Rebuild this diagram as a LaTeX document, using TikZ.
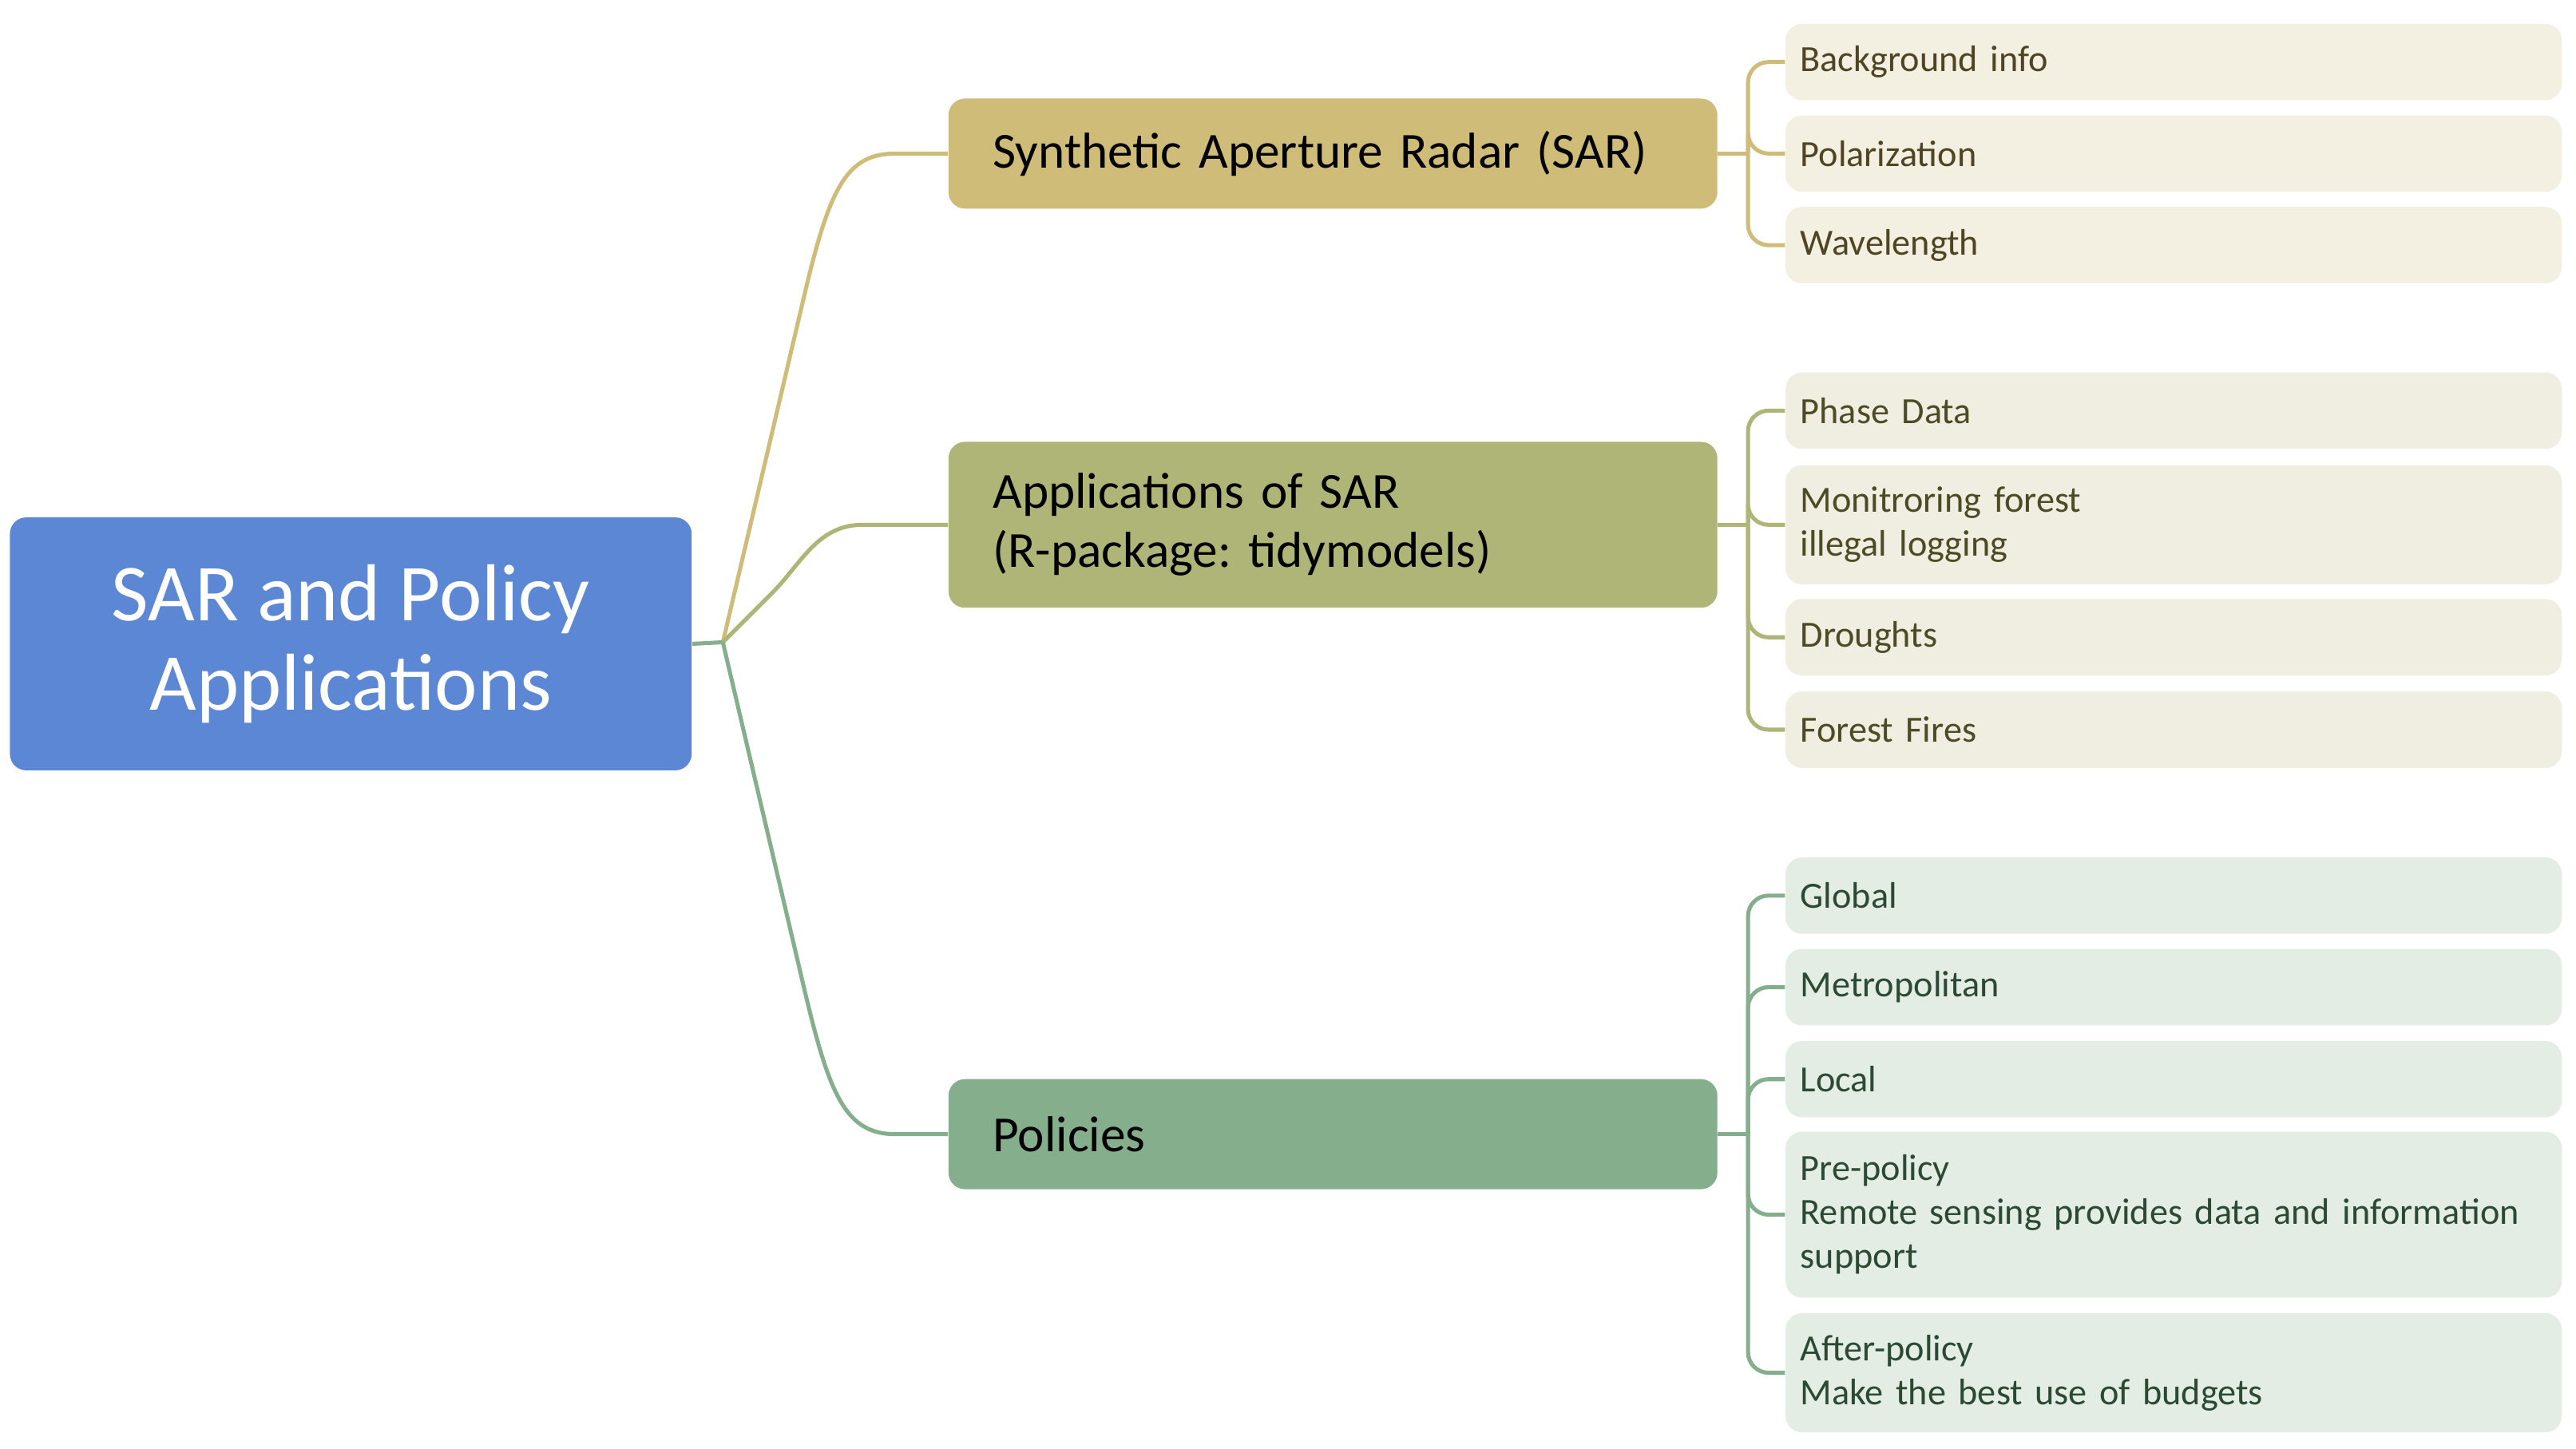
\documentclass[tikz,border=0pt]{standalone}
\usepackage{xcolor}
\usepackage{tikz}
\usepackage{fontspec}
\setmainfont{Carlito}
\frenchspacing

\definecolor{rootblue}{HTML}{5B87D4}
\definecolor{sargold}{HTML}{D0BC79}
\definecolor{appolive}{HTML}{AFB576}
\definecolor{polgreen}{HTML}{84AE8C}
\definecolor{sarleaf}{HTML}{F3EFE1}
\definecolor{appleaf}{HTML}{EFEEE0}
\definecolor{polleaf}{HTML}{E4EDE4}
\definecolor{sartext}{HTML}{4F4423}
\definecolor{apptext}{HTML}{4B4C26}
\definecolor{poltext}{HTML}{2C4A33}

\tikzset{
	main/.style={anchor=west, rounded corners=0.2cm, minimum width=9.36cm, text width=8.28cm, inner xsep=0.54cm, align=left, font=\fontsize{17.5}{20.5}\selectfont},
	leaf/.style={anchor=west, rounded corners=0.2cm, text width=9.09cm, inner xsep=0.18cm, inner ysep=0pt, align=left, font=\fontsize{12.8}{15.2}\selectfont},
	branch/.style={line width=1.4pt},
}

\begin{document}
\begin{tikzpicture}
	\newcommand\mx{11.54}
	\newcommand\bx{21.28}
	\newcommand\lx{21.73}

	\useasboundingbox (0,0) rectangle (31.36,-17.64);

	\node[rounded corners=0.2cm, fill=rootblue, text=white, minimum width=8.30cm, minimum height=3.08cm, align=center, font=\fontsize{28}{31}\selectfont] (root) at (4.27,-7.84) {SAR and Policy\\Applications};
	\coordinate (hub) at (8.80,-7.82);

	\node[main, fill=sargold, minimum height=1.34cm] (sar) at (\mx,-1.87) {Synthetic Aperture Radar (SAR)};
	\node[main, fill=appolive, minimum height=2.02cm] (app) at (\mx,-6.39) {Applications of SAR\\(R-package: tidymodels)};
	\node[main, fill=polgreen, minimum height=1.34cm] (pol) at (\mx,-13.81) {Policies};

	\node[leaf, fill=sarleaf, text=sartext, minimum height=0.93cm] (bg) at (\lx,-0.755) {Background info};
	\node[leaf, fill=sarleaf, text=sartext, minimum height=0.93cm] (polz) at (\lx,-1.87) {Polarization};
	\node[leaf, fill=sarleaf, text=sartext, minimum height=0.93cm] (wave) at (\lx,-2.985) {Wavelength};

	\node[leaf, fill=appleaf, text=apptext, minimum height=0.93cm] (phase) at (\lx,-5.00) {Phase Data};
	\node[leaf, fill=appleaf, text=apptext, minimum height=1.45cm] (monit) at (\lx,-6.39) {Monitroring forest\\illegal logging};
	\node[leaf, fill=appleaf, text=apptext, minimum height=0.93cm] (drought) at (\lx,-7.76) {Droughts};
	\node[leaf, fill=appleaf, text=apptext, minimum height=0.93cm] (fire) at (\lx,-8.885) {Forest Fires};

	\node[leaf, fill=polleaf, text=poltext, minimum height=0.93cm] (glob) at (\lx,-10.905) {Global};
	\node[leaf, fill=polleaf, text=poltext, minimum height=0.93cm] (metro) at (\lx,-12.02) {Metropolitan};
	\node[leaf, fill=polleaf, text=poltext, minimum height=0.93cm] (local) at (\lx,-13.14) {Local};
	\node[leaf, fill=polleaf, text=poltext, minimum height=2.02cm] (pre) at (\lx,-14.79) {Pre-policy\\Remote sensing provides data and information\\support};
	\node[leaf, fill=polleaf, text=poltext, minimum height=1.45cm] (after) at (\lx,-16.715) {After-policy\\Make the best use of budgets};

	\draw[branch, sargold] (hub) -- (9.80,-3.56) .. controls (10.10,-2.30) and (10.30,-1.87) .. (10.90,-1.87) -- (sar.west);
	\draw[branch, appolive] (hub) -- (9.40,-7.22) .. controls (9.75,-6.87) and (9.95,-6.39) .. (10.50,-6.39) -- (app.west);
	\draw[branch, polgreen] (hub) -- (9.80,-12.08) .. controls (10.10,-13.34) and (10.30,-13.81) .. (10.90,-13.81) -- (pol.west);
	\draw[branch, polgreen] (root.east) -- (hub);

	\coordinate (sarbus) at (\bx,-1.87);
	\coordinate (appbus) at (\bx,-6.39);
	\coordinate (polbus) at (\bx,-13.81);

	\draw[branch, sargold] (sar.east) -- (sarbus);
	\foreach \n in {bg,polz,wave}
		\draw[branch, sargold, rounded corners=0.25cm] (sarbus) |- (\n.west);

	\draw[branch, appolive] (app.east) -- (appbus);
	\foreach \n in {phase,monit,drought,fire}
		\draw[branch, appolive, rounded corners=0.25cm] (appbus) |- (\n.west);

	\draw[branch, polgreen] (pol.east) -- (polbus);
	\foreach \n in {glob,metro,local,pre,after}
		\draw[branch, polgreen, rounded corners=0.25cm] (polbus) |- (\n.west);
\end{tikzpicture}
\end{document}
